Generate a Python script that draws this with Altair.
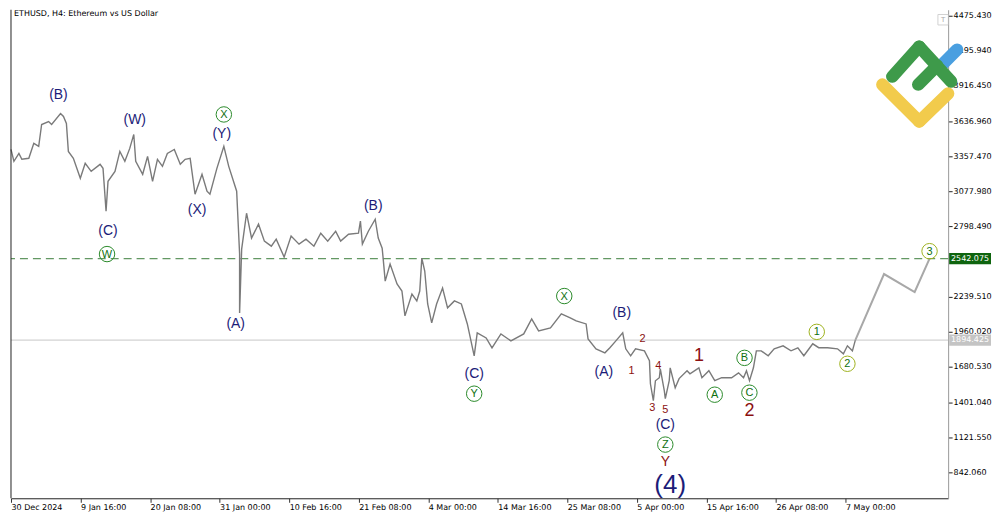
import altair as alt
import pandas as pd

# ---------------- data ----------------
# x = H4 bar index counted from 30 Dec 2024 00:00, price in USD
bars = [0, 2.7, 7.3, 10.0, 16.4, 21.0, 25.5, 28.2, 34.6, 37.4, 45.6, 48.3, 51.0, 52.8, 57.4,
        63.8, 68.3, 73.8, 82.0, 84.7, 87.5, 89.3, 95.7, 100.2, 104.8, 109.3, 113.0, 114.8,
        121.2, 125.7, 130.3, 134.8, 139.4, 143.9, 150.3, 155.8, 160.3, 164.9, 169.4, 175.8,
        180.4, 183.1, 189.5, 195.9, 200.4, 207.7, 210.4, 210.4, 212.3, 216.8, 221.4, 227.8,
        233.2, 239.6, 244.1, 251.4, 257.8, 265.1, 271.5, 278.8, 285.1, 291.5, 298.8, 303.4,
        310.7, 319.8, 321.6, 323.4, 328.9, 335.2, 338.0, 341.6, 342.5, 344.4, 348.9, 355.3,
        359.8, 362.6, 369.0, 373.5, 376.2, 378.1, 380.8, 383.5, 387.2, 391.7, 397.2, 401.8,
        408.1, 414.5, 420.0, 426.3, 429.1, 437.3, 442.7, 450.9, 460.1, 471.9, 479.2, 485.6,
        496.5, 506.5, 514.7, 520.2, 529.3, 531.1, 538.4, 546.6, 551.2, 556.7, 563.0, 565.8,
        570.3, 574.8, 583.0, 587.6, 588.5, 591.2, 593.1, 596.7, 597.6, 601.3, 602.2, 605.8,
        606.7, 611.3, 614.9, 622.2, 624.9, 633.1, 635.9, 642.3, 647.7, 654.1, 663.2, 669.6,
        674.2, 676.9, 679.7, 683.3, 686.0, 690.5, 696.9, 702.4, 710.6, 717.9, 724.2, 729.7,
        737.9, 743.4, 751.6, 760.7, 766.1, 769.8, 774.4, 777.1]
prices = [3412, 3317, 3380, 3333, 3341, 3460, 3436, 3610, 3634, 3610, 3698, 3674, 3618, 3396, 3341,
          3182, 3301, 3237, 3293, 3261, 2920, 3158, 3237, 3396, 3317, 3420, 3531, 3317,
          3214, 3356, 3158, 3333, 3277, 3380, 3412, 3293, 3333, 3341, 3055, 3214,
          3079, 3055, 3261, 3436, 3277, 3079, 2579, 2110, 2618, 2904, 2706, 2817,
          2682, 2642, 2698, 2555, 2722, 2658, 2698, 2642, 2745, 2682, 2761, 2682,
          2737, 2745, 2841, 2658, 2761, 2856, 2706, 2626, 2547, 2364, 2500, 2341,
          2285, 2087, 2261, 2206, 2285, 2547, 2444, 2182, 2031, 2182, 2309, 2151,
          2206, 2182, 2023, 1769, 1952, 1912, 1833, 1944, 1888, 1944, 2063, 1968,
          1991, 2103, 2071, 2047, 2023, 1904, 1825, 1793, 1833, 1888, 1952, 1825,
          1769, 1825, 1809, 1730, 1547, 1412, 1571, 1595, 1666, 1491, 1428, 1571,
          1674, 1515, 1588, 1651, 1626, 1674, 1595, 1651, 1572, 1595, 1595, 1634,
          1595, 1651, 1572, 1674, 1809, 1809, 1770, 1825, 1849, 1809, 1833, 1770,
          1865, 1834, 1834, 1825, 1785, 1849, 1809, 1894]

fc_bars = [777.1, 803.5, 831.7, 845.4]
fc_prices = [1894.4, 2420, 2277, 2542.1]

target_price = 2542.075
last_price = 1894.425

# 2519.000 is hidden behind the 2542.075 price box in the reference
y_ticks = [842.06, 1121.55, 1401.04, 1680.53, 1960.02, 2239.51, 2798.49,
           3077.98, 3357.47, 3636.96, 3916.45, 4195.94, 4475.43]
x_ticks = [0, 64, 128, 192, 256, 320, 384, 448, 512, 576, 640, 704, 768]
x_labels = ["30 Dec 2024", "9 Jan 16:00", "20 Jan 08:00", "31 Jan 00:00", "10 Feb 16:00",
            "21 Feb 08:00", "4 Mar 00:00", "14 Mar 16:00", "25 Mar 08:00", "5 Apr 00:00",
            "15 Apr 16:00", "26 Apr 08:00", "7 May 00:00"]

navy_text = ["(B)", "(W)", "(C)", "(X)", "(Y)", "(A)", "(B)", "(C)", "(A)", "(B)", "(C)"]
navy_bar = [43.7, 113.9, 89.3, 171.3, 194.0, 206.8, 333.4, 426.3, 545.7, 562.1, 602.2]
navy_price = [3848, 3642, 2762, 2928, 3531, 2023, 2960, 1626, 1642, 2110, 1222]

big_text = ["(4)"]
big_bar = [606.7]
big_price = [740]

circ_text = ["W", "X", "Y", "X", "Z", "A", "B", "C"]
circ_bar = [88.4, 195.9, 426.3, 509.2, 602.2, 647.7, 675.1, 679.6]
circ_price = [2579, 3690, 1468, 2245, 1063, 1460, 1753, 1476]

dig_text = ["1", "2", "3"]
dig_bar = [741.6, 769.8, 845.4]
dig_price = [1960, 1706, 2602]

red_small_text = ["2", "1", "4", "3", "5"]
red_small_bar = [581.2, 571.2, 595.8, 590.3, 602.2]
red_small_price = [1904, 1650, 1690, 1357, 1341]

red_big_text = ["1", "2"]
red_big_bar = [633.1, 679.6]
red_big_price = [1769, 1333]

red_y_text = ["Y"]
red_y_bar = [602.2]
red_y_price = [922]

# ---------------- chart ----------------
W, H = 940, 490
xs = alt.Scale(domain=[0, 862.5], nice=False, zero=False)
ys = alt.Scale(domain=[635.8, 4523.0], nice=False, zero=False)

label_expr = "[" + ",".join("'%s'" % s for s in x_labels) + "][round(datum.value/64)]"

X_AX = alt.Axis(values=x_ticks, labelExpr=label_expr, title=None, grid=False,
                labelAlign="left", labelFont="DejaVu Sans", labelFontSize=8, labelColor="#000",
                labelPadding=1, tickSize=4, tickColor="#333", domainColor="#222",
                labelFlush=False, labelOverlap=False)
Y_AX = alt.Axis(orient="right", values=y_ticks, format=".3f", title=None, grid=False,
                labelFont="DejaVu Sans", labelFontSize=8, labelColor="#000", labelPadding=1,
                tickSize=4, tickColor="#222", domainColor="#999", labelFlush=False,
                labelOverlap=False)


def xy():
    return dict(x=alt.X("bar:Q", scale=xs, axis=X_AX), y=alt.Y("price:Q", scale=ys, axis=Y_AX))


def yonly():
    return alt.Y("price:Q", scale=ys, axis=Y_AX)


price_df = pd.DataFrame({"bar": bars, "price": prices})
price_line = alt.Chart(price_df).mark_line(color="#7a7a7a", strokeWidth=1.4).encode(
    order="bar:Q", **xy())

fc_df = pd.DataFrame({"bar": fc_bars, "price": fc_prices})
fc_line = alt.Chart(fc_df).mark_line(color="#a8a8a8", strokeWidth=2).encode(order="bar:Q", **xy())

hl_df = pd.DataFrame({"price": [target_price]})
dash_rule = alt.Chart(hl_df).mark_rule(color="#3a7d3a", strokeDash=[8, 5], strokeWidth=1).encode(
    y=yonly())
lp_df = pd.DataFrame({"price": [last_price]})
last_rule = alt.Chart(lp_df).mark_rule(color="#c8c8c8", strokeWidth=1).encode(y=yonly())

one = alt.Data(values=[{}])
left_border = alt.Chart(one).mark_rule(color="#222").encode(
    x=alt.value(0), y=alt.value(0), y2=alt.value(H))

title = alt.Chart(one).mark_text(text="ETHUSD, H4:  Ethereum vs US Dollar", align="left",
                                 baseline="top", font="DejaVu Sans", fontSize=8, color="#000").encode(
    x=alt.value(3), y=alt.value(0))


def text_layer(texts, bx, pr, color, size, dy=0):
    df = pd.DataFrame({"t": texts, "bar": bx, "price": pr})
    return alt.Chart(df).mark_text(color=color, fontSize=size, font="Liberation Sans",
                                   align="center", baseline="middle", dy=dy).encode(
        text="t:N", **xy())


def circle_layer(bx, pr, color):
    df = pd.DataFrame({"bar": bx, "price": pr})
    return alt.Chart(df).mark_point(shape="circle", size=240, filled=False, color=color,
                                    strokeWidth=1, opacity=1).encode(**xy())


navy = "#1c1c78"
green = "#0f700f"
dred = "#8b1010"

layers = [
    last_rule, dash_rule, price_line, fc_line, left_border, title,
    text_layer(navy_text, navy_bar, navy_price, navy, 14),
    text_layer(big_text, big_bar, big_price, navy, 26),
    circle_layer(circ_bar, circ_price, "#2a8a2a"),
    text_layer(circ_text, circ_bar, circ_price, green, 11, dy=0.5),
    circle_layer(dig_bar, dig_price, "#9fb21f"),
    text_layer(dig_text, dig_bar, dig_price, green, 11, dy=0.5),
    text_layer(red_small_text, red_small_bar, red_small_price, dred, 11),
    text_layer(red_big_text, red_big_bar, red_big_price, dred, 18),
    text_layer(red_y_text, red_y_bar, red_y_price, dred, 14),
]

# logo (decoration, pixel-positioned)
logo_segments = [
    ("#4a9fe0", 949, 40, 932, 57),
    ("#f2cb4c", 874, 75, 911, 112),
    ("#f2cb4c", 911, 112, 940, 84),
    ("#3e9a4a", 884, 67, 911, 37),
    ("#3e9a4a", 911, 37, 943, 72),
    ("#3e9a4a", 910, 75, 929, 56),
]
for col, x1, y1, x2, y2 in logo_segments:
    layers.append(alt.Chart(one).mark_rule(color=col, strokeWidth=12.5, strokeCap="round").encode(
        x=alt.value(x1), y=alt.value(y1), x2=alt.value(x2), y2=alt.value(y2)))

# small "T" button top right
layers.append(alt.Chart(one).mark_point(shape="square", size=110, filled=False, color="#c0c0c0",
                                        strokeWidth=1).encode(x=alt.value(935), y=alt.value(10)))
layers.append(alt.Chart(one).mark_text(text="T", fontSize=7, color="#aaa", font="DejaVu Sans").encode(
    x=alt.value(935), y=alt.value(10)))

# price boxes on the right axis
box_path = "M-1,-0.27L1,-0.27L1,0.27L-1,0.27Z"
for val, bg in [(target_price, "#0e640e"), (last_price, "#c4c4c4")]:
    bdf = pd.DataFrame({"price": [val], "t": ["%.3f" % val]})
    layers.append(alt.Chart(bdf).mark_point(shape=box_path, size=1764, filled=True, color=bg,
                                            opacity=1, strokeWidth=0).encode(
        x=alt.value(W + 22), y=yonly()))
    layers.append(alt.Chart(bdf).mark_text(color="#ffffff", fontSize=8, font="DejaVu Sans",
                                           baseline="middle").encode(
        x=alt.value(W + 22), y=yonly(), text="t:N"))

chart = alt.layer(*layers).properties(
    width=W, height=H, padding={"left": 0, "top": 0, "right": 0, "bottom": 0},
    background="#ffffff",
).configure_view(stroke=None)

chart.save("out.html", embed_options={"renderer": "svg", "actions": False})
